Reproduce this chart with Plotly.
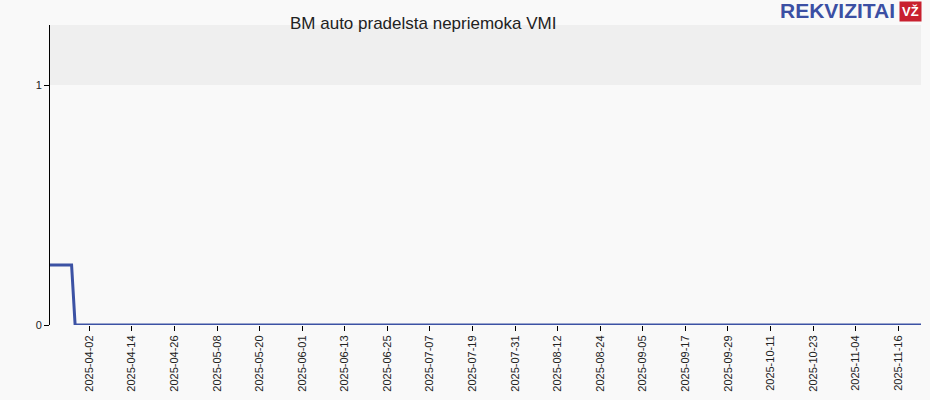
import plotly.graph_objects as go

dates = ["2025-03-21", "2025-03-28", "2025-03-29", "2025-11-23"]
values = [0.25, 0.25, 0, 0]

tick_dates = ["2025-04-02", "2025-04-14", "2025-04-26", "2025-05-08", "2025-05-20",
              "2025-06-01", "2025-06-13", "2025-06-25", "2025-07-07", "2025-07-19",
              "2025-07-31", "2025-08-12", "2025-08-24", "2025-09-05", "2025-09-17",
              "2025-09-29", "2025-10-11", "2025-10-23", "2025-11-04", "2025-11-16"]
y_ticks = [0, 1]
title = "BM auto pradelsta nepriemoka VMI"

fig = go.Figure()
fig.add_trace(go.Scatter(x=dates, y=values, mode="lines",
                         line=dict(color="#3c52a4", width=3), hoverinfo="skip"))

fig.add_shape(type="rect", xref="paper", yref="y", x0=0, x1=1, y0=1, y1=1.25,
              fillcolor="#efefef", line=dict(width=0), layer="below")

fig.add_annotation(text=title, xref="paper", yref="paper", x=(423 - 50) / 871, y=(325 - 24) / 300,
                   xanchor="center", yanchor="middle", showarrow=False,
                   font=dict(family="Liberation Sans, Arial", size=17, color="#222"))
fig.add_annotation(text="<b>REKVIZITAI</b>", xref="paper", yref="paper", x=(897 - 50) / 871, y=(325 + 3) / 300,
                   xanchor="right", yanchor="top", showarrow=False,
                   font=dict(family="Liberation Sans Narrow, Arial Narrow, Liberation Sans", size=21, color="#3b4fa3"))
fig.add_annotation(text="<b>VŽ</b>", xref="paper", yref="paper", x=(910 - 50) / 871, y=(325 - 11) / 300,
                   xanchor="center", yanchor="middle", showarrow=False, bgcolor="#c8202f",
                   font=dict(family="Liberation Sans", size=13, color="white"), borderpad=2)

fig.update_layout(
    width=930, height=400,
    margin=dict(l=50, r=9, t=25, b=75),
    paper_bgcolor="#f9f9f9", plot_bgcolor="#f9f9f9",
    showlegend=False,
    font=dict(family="Liberation Sans, Arial", size=11, color="#222"),
)
fig.update_xaxes(range=["2025-03-21 22:00", "2025-11-22 10:00"], tickvals=tick_dates,
                 ticktext=tick_dates, tickangle=-90, showgrid=False, zeroline=False,
                 showline=False, ticks="outside", ticklen=5, tickcolor="#000",
                 tickfont=dict(size=11))
fig.update_yaxes(range=[0, 1.25], tickvals=y_ticks, showgrid=False, zeroline=False,
                 showline=True, linecolor="#000", linewidth=1, ticks="outside", ticklen=5,
                 tickcolor="#000", tickfont=dict(size=11))

fig.write_html("out.html", config={"displayModeBar": False},
               post_script="document.body.style.margin='0';document.body.style.background='#f9f9f9';")
